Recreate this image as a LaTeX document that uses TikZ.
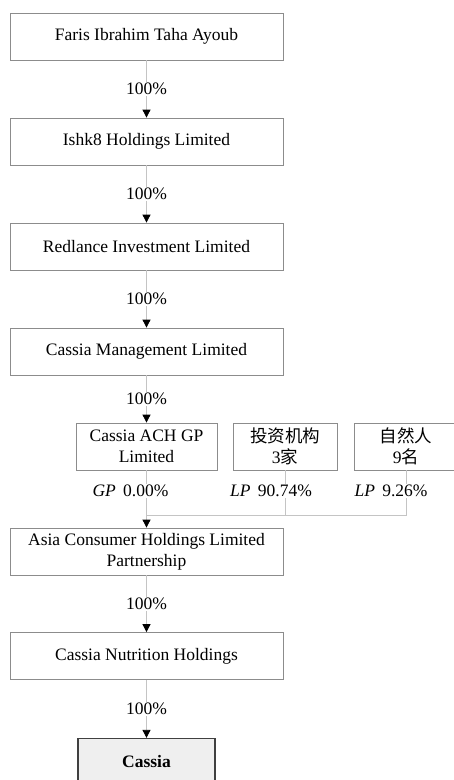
\documentclass[tikz,border=0pt]{standalone}
\usepackage{fontspec}
\setmainfont{Liberation Serif}
\newfontfamily\cjk{Noto Sans CJK SC}
\usetikzlibrary{arrows.meta}
\definecolor{boxgray}{HTML}{8C8C8C}
\definecolor{linegray}{HTML}{C4C4C4}
\definecolor{cassiafill}{HTML}{EFEFEF}
\definecolor{cassiaedge}{HTML}{404040}
\begin{document}
\begin{tikzpicture}[x=1pt,y=-1pt,
  box/.style={draw=boxgray, line width=0.8pt, minimum height=47pt, inner sep=0pt,
    align=center, font=\fontsize{17.5}{21}\selectfont, fill=white},
  lbl/.style={fill=white, inner sep=1pt, font=\fontsize{17.5}{21}\selectfont},
  conn/.style={draw=linegray, line width=0.8pt},
  arr/.style={conn, -{Triangle[width=8pt,length=8pt,black]}}]
\useasboundingbox (0,0) rectangle (454,780);
\clip (0,0) rectangle (454,780);

\node[box, minimum width=273pt] (b1) at (146.5,36.5) {Faris Ibrahim Taha Ayoub};
\node[box, minimum width=273pt] (b2) at (146.5,141.5) {Ishk8 Holdings Limited};
\node[box, minimum width=273pt] (b3) at (146.5,246.5) {Redlance Investment Limited};
\node[box, minimum width=273pt] (b4) at (146.5,351.5) {Cassia Management Limited};

\node[box, minimum width=141pt] (gp) at (146.5,446.5) {Cassia ACH GP\\Limited};
\node[box, minimum width=104pt] (inv) at (285,446.5) {{\cjk 投资机构}\\3{\cjk 家}};
\node[box, minimum width=104pt] (nat) at (406,446.5) {{\cjk 自然人}\\9{\cjk 名}};

\node[box, minimum width=273pt] (ach) at (146.5,551.5) {Asia Consumer Holdings Limited\\Partnership};
\node[box, minimum width=273pt] (nut) at (146.5,656) {Cassia Nutrition Holdings};
\node[box, minimum width=137pt, draw=cassiaedge, line width=1.3pt, fill=cassiafill,
  font=\fontsize{17.5}{21}\selectfont\bfseries] (cas) at (146.5,762) {Cassia};

\draw[arr] (b1.south) -- (b2.north) node[lbl, midway] {100\%};
\draw[arr] (b2.south) -- (b3.north) node[lbl, midway] {100\%};
\draw[arr] (b3.south) -- (b4.north) node[lbl, midway] {100\%};
\draw[arr] (b4.south) -- (gp.north) node[lbl, midway] {100\%};

\coordinate (j) at (146.5,515);
\draw[arr] (gp.south) -- (ach.north);
\draw[conn] (inv.south) |- (j);
\draw[conn] (nat.south) |- (j);
\node[lbl] (lgp) at (130.5,491) {\textit{GP}\, 0.00\%};
\node[lbl] (linv) at (271,491) {\textit{LP}\, 90.74\%};
\node[lbl] (lnat) at (391,491) {\textit{LP}\, 9.26\%};

\draw[arr] (ach.south) -- (nut.north) node[lbl, midway] {100\%};
\draw[arr] (nut.south) -- (cas.north) node[lbl, midway] {100\%};
\end{tikzpicture}
\end{document}
